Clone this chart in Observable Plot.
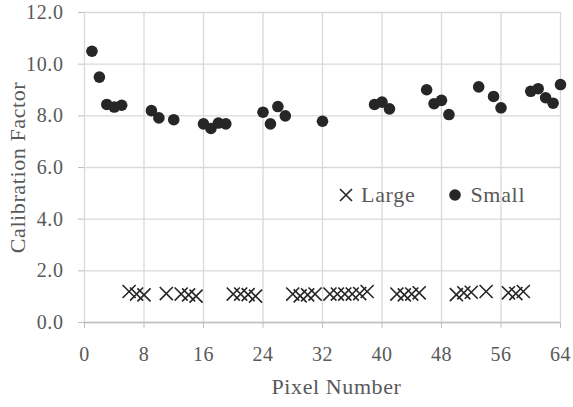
<!DOCTYPE html>
<html>
<head>
<meta charset="utf-8">
<script src="https://cdn.jsdelivr.net/npm/d3@7"></script>
<script src="https://cdn.jsdelivr.net/npm/@observablehq/plot@0.6"></script>
<style>
  html, body { margin: 0; padding: 0; background: #fff; }
  #wrap { position: relative; width: 573px; height: 407px; font-family: "Liberation Serif", serif; }
  #wrap svg text { letter-spacing: 0.6px; }
  #legend { position: absolute; left: 339px; top: 182px; font-size: 22px; letter-spacing: 0.7px; color: #595959; display: flex; align-items: center; white-space: nowrap; line-height: 26px; }
  #legend .item { display: flex; align-items: center; }
  #legend .item + .item { margin-left: 33px; }
  #legend svg { margin-right: 8px; }
</style>
</head>
<body>
<div id="wrap"></div>
<script>
// Small pixels
const smallPixel = [1,2,3,4,5,9,10,12,16,17,18,19,24,25,26,27,32,39,40,41,46,47,48,49,53,55,56,60,61,62,63,64];
const smallValue = [10.5,9.5,8.44,8.34,8.41,8.2,7.92,7.85,7.69,7.51,7.72,7.69,8.14,7.69,8.36,8.0,7.79,8.44,8.53,8.27,9.01,8.47,8.6,8.05,9.12,8.75,8.31,8.95,9.05,8.7,8.49,9.21];
// Large pixels
const largePixel = [6,7,8,11,13,14,15,20,21,22,23,28,29,30,31,33,34,35,36,37,38,42,43,44,45,50,51,52,54,57,58,59];
const largeValue = [1.2,1.1,1.07,1.12,1.1,1.07,1.02,1.1,1.1,1.08,1.02,1.1,1.03,1.07,1.1,1.1,1.1,1.1,1.1,1.12,1.2,1.1,1.07,1.1,1.15,1.08,1.15,1.17,1.2,1.15,1.12,1.2];
const xTicks = [0,8,16,24,32,40,48,56,64];
const yTicks = [0,2,4,6,8,10,12];

const small = smallPixel.map((p, i) => ({pixel: p, value: smallValue[i]}));
const large = largePixel.map((p, i) => ({pixel: p, value: largeValue[i]}));

const gray = "#595959";
const chart = Plot.plot({
  width: 573,
  height: 407,
  marginLeft: 84,
  marginRight: 13,
  marginTop: 12,
  marginBottom: 85,
  style: {fontFamily: "Liberation Serif, serif", fontSize: "20px", color: gray, background: "#fff", overflow: "visible"},
  x: {domain: [0, 64], ticks: xTicks, label: null},
  y: {domain: [0, 12], ticks: yTicks, label: null},
  marks: [
    Plot.gridX(xTicks, {stroke: "#d9d9d9", strokeOpacity: 1, strokeWidth: 1.3}),
    Plot.gridY(yTicks, {stroke: "#d9d9d9", strokeOpacity: 1, strokeWidth: 1.3}),
    Plot.ruleY([0], {stroke: "#bfbfbf", strokeWidth: 1.3}),
    Plot.axisX({ticks: xTicks, tickSize: 6, tickPadding: 18, stroke: "#bfbfbf", fill: gray, fontSize: 20, label: null}),
    Plot.axisY({ticks: yTicks, tickSize: 6, tickPadding: 15, tickFormat: d3.format(".1f"), stroke: "#bfbfbf", fill: gray, fontSize: 20, label: null}),
    Plot.text(["Pixel Number"], {frameAnchor: "bottom", textAnchor: "middle", dy: 71, dx: 14, fill: gray, fontSize: 22, text: d => d}),
    Plot.text(["Calibration Factor"], {frameAnchor: "left", textAnchor: "middle", dx: -67, rotate: -90, fill: gray, fontSize: 22, text: d => d}),
    Plot.dot(large, {x: "pixel", y: "value", symbol: "times", r: 6, stroke: "#262626", strokeWidth: 1.6}),
    Plot.dot(small, {x: "pixel", y: "value", r: 5.8, fill: "#262626", stroke: "none"})
  ]
});
const wrap = document.getElementById("wrap");
wrap.appendChild(chart);

const legend = document.createElement("div");
legend.id = "legend";
legend.innerHTML =
  '<div class="item"><svg width="14" height="14" viewBox="-7 -7 14 14"><path d="M-6,-6L6,6M6,-6L-6,6" stroke="#262626" stroke-width="1.6"/></svg><span>Large</span></div>' +
  '<div class="item"><svg width="14" height="14" viewBox="-7 -7 14 14"><circle r="5.8" fill="#262626"/></svg><span>Small</span></div>';
wrap.appendChild(legend);
</script>
</body>
</html>
